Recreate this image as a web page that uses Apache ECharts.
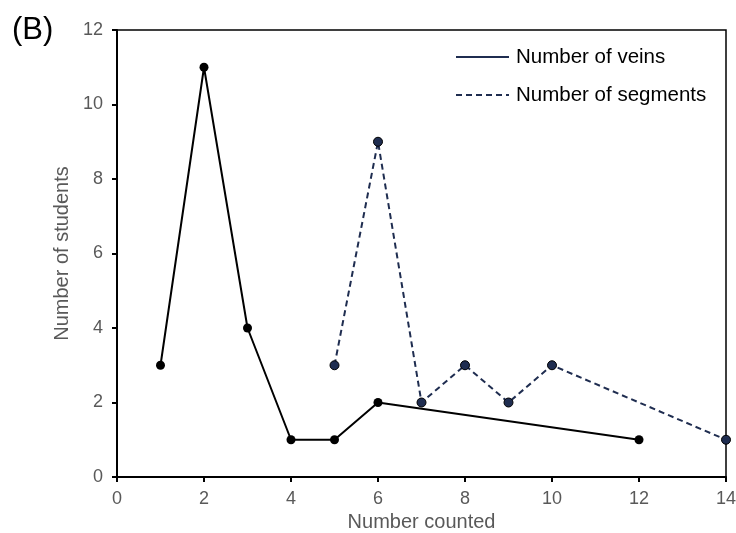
<!DOCTYPE html>
<html><head><meta charset="utf-8">
<script src="https://cdn.jsdelivr.net/npm/echarts@6/dist/echarts.min.js"></script>
<style>html,body{margin:0;padding:0;background:#fff}#c{width:736px;height:533px}</style>
</head><body><div id="c"></div>
<script>
const veinsX = [1, 2, 3, 4, 5, 6, 12];
const veinsY = [3, 11, 4, 1, 1, 2, 1];
const segX = [5, 6, 7, 8, 9, 10, 14];
const segY = [3, 9, 2, 3, 2, 3, 1];
const seriesNames = ['Number of veins', 'Number of segments'];
const xTitle = 'Number counted';
const yTitle = 'Number of students';
const panel = '(B)';

const pair = (xs, ys) => xs.map((x, i) => [x, ys[i]]);
const font = 'Liberation Sans, Arial, sans-serif';
const chart = echarts.init(document.getElementById('c'), null, {renderer: 'canvas'});
chart.setOption({
  animation: false,
  title: {text: panel, left: 7, top: 10, textStyle: {fontFamily: font, fontSize: 31, fontWeight: 'normal', color: '#000'}},
  grid: {left: 117, right: 10, top: 30, bottom: 56, show: true, borderColor: '#000', borderWidth: 1.5,
         containLabel: false, outerBoundsMode: 'none'},
  legend: {
    left: 450, top: 40, orient: 'vertical', itemWidth: 53, itemHeight: 14, itemGap: 14,
    textStyle: {fontFamily: font, fontSize: 20.5, color: '#000', lineHeight: 24, padding: [0, 0, 0, 2]},
    data: [
      {name: seriesNames[0], itemStyle: {opacity: 0}, lineStyle: {color: '#1f2d50', type: 'solid', width: 2}},
      {name: seriesNames[1], itemStyle: {opacity: 0}, lineStyle: {color: '#1f2d50', type: [6, 4], width: 2}}
    ]
  },
  xAxis: {
    type: 'value', min: 0, max: 14, interval: 2,
    name: xTitle, nameLocation: 'middle', nameGap: 31,
    nameTextStyle: {fontFamily: font, fontSize: 20, color: '#595959'},
    axisLine: {lineStyle: {color: '#000', width: 2}},
    axisTick: {show: true, length: 5, lineStyle: {color: '#000', width: 2}},
    axisLabel: {fontFamily: font, fontSize: 18, color: '#595959', margin: 13},
    splitLine: {show: false}
  },
  yAxis: {
    type: 'value', min: 0, max: 12, interval: 2,
    name: yTitle, nameLocation: 'middle', nameGap: 40,
    nameTextStyle: {fontFamily: font, fontSize: 20, color: '#595959'},
    axisLine: {show: true, lineStyle: {color: '#000', width: 2}},
    axisTick: {show: true, length: 5, lineStyle: {color: '#000', width: 2}},
    axisLabel: {fontFamily: font, fontSize: 18, color: '#595959', margin: 14},
    splitLine: {show: false}
  },
  series: [
    {
      name: seriesNames[0], type: 'line', data: pair(veinsX, veinsY),
      symbol: 'circle', symbolSize: 9,
      lineStyle: {color: '#000', width: 2},
      itemStyle: {color: '#000'}
    },
    {
      name: seriesNames[1], type: 'line', data: pair(segX, segY),
      symbol: 'circle', symbolSize: 9,
      lineStyle: {color: '#1f2d50', width: 2, type: [6, 4]},
      itemStyle: {color: '#1f2d50', borderColor: '#000', borderWidth: 1}
    }
  ]
});
</script></body></html>
